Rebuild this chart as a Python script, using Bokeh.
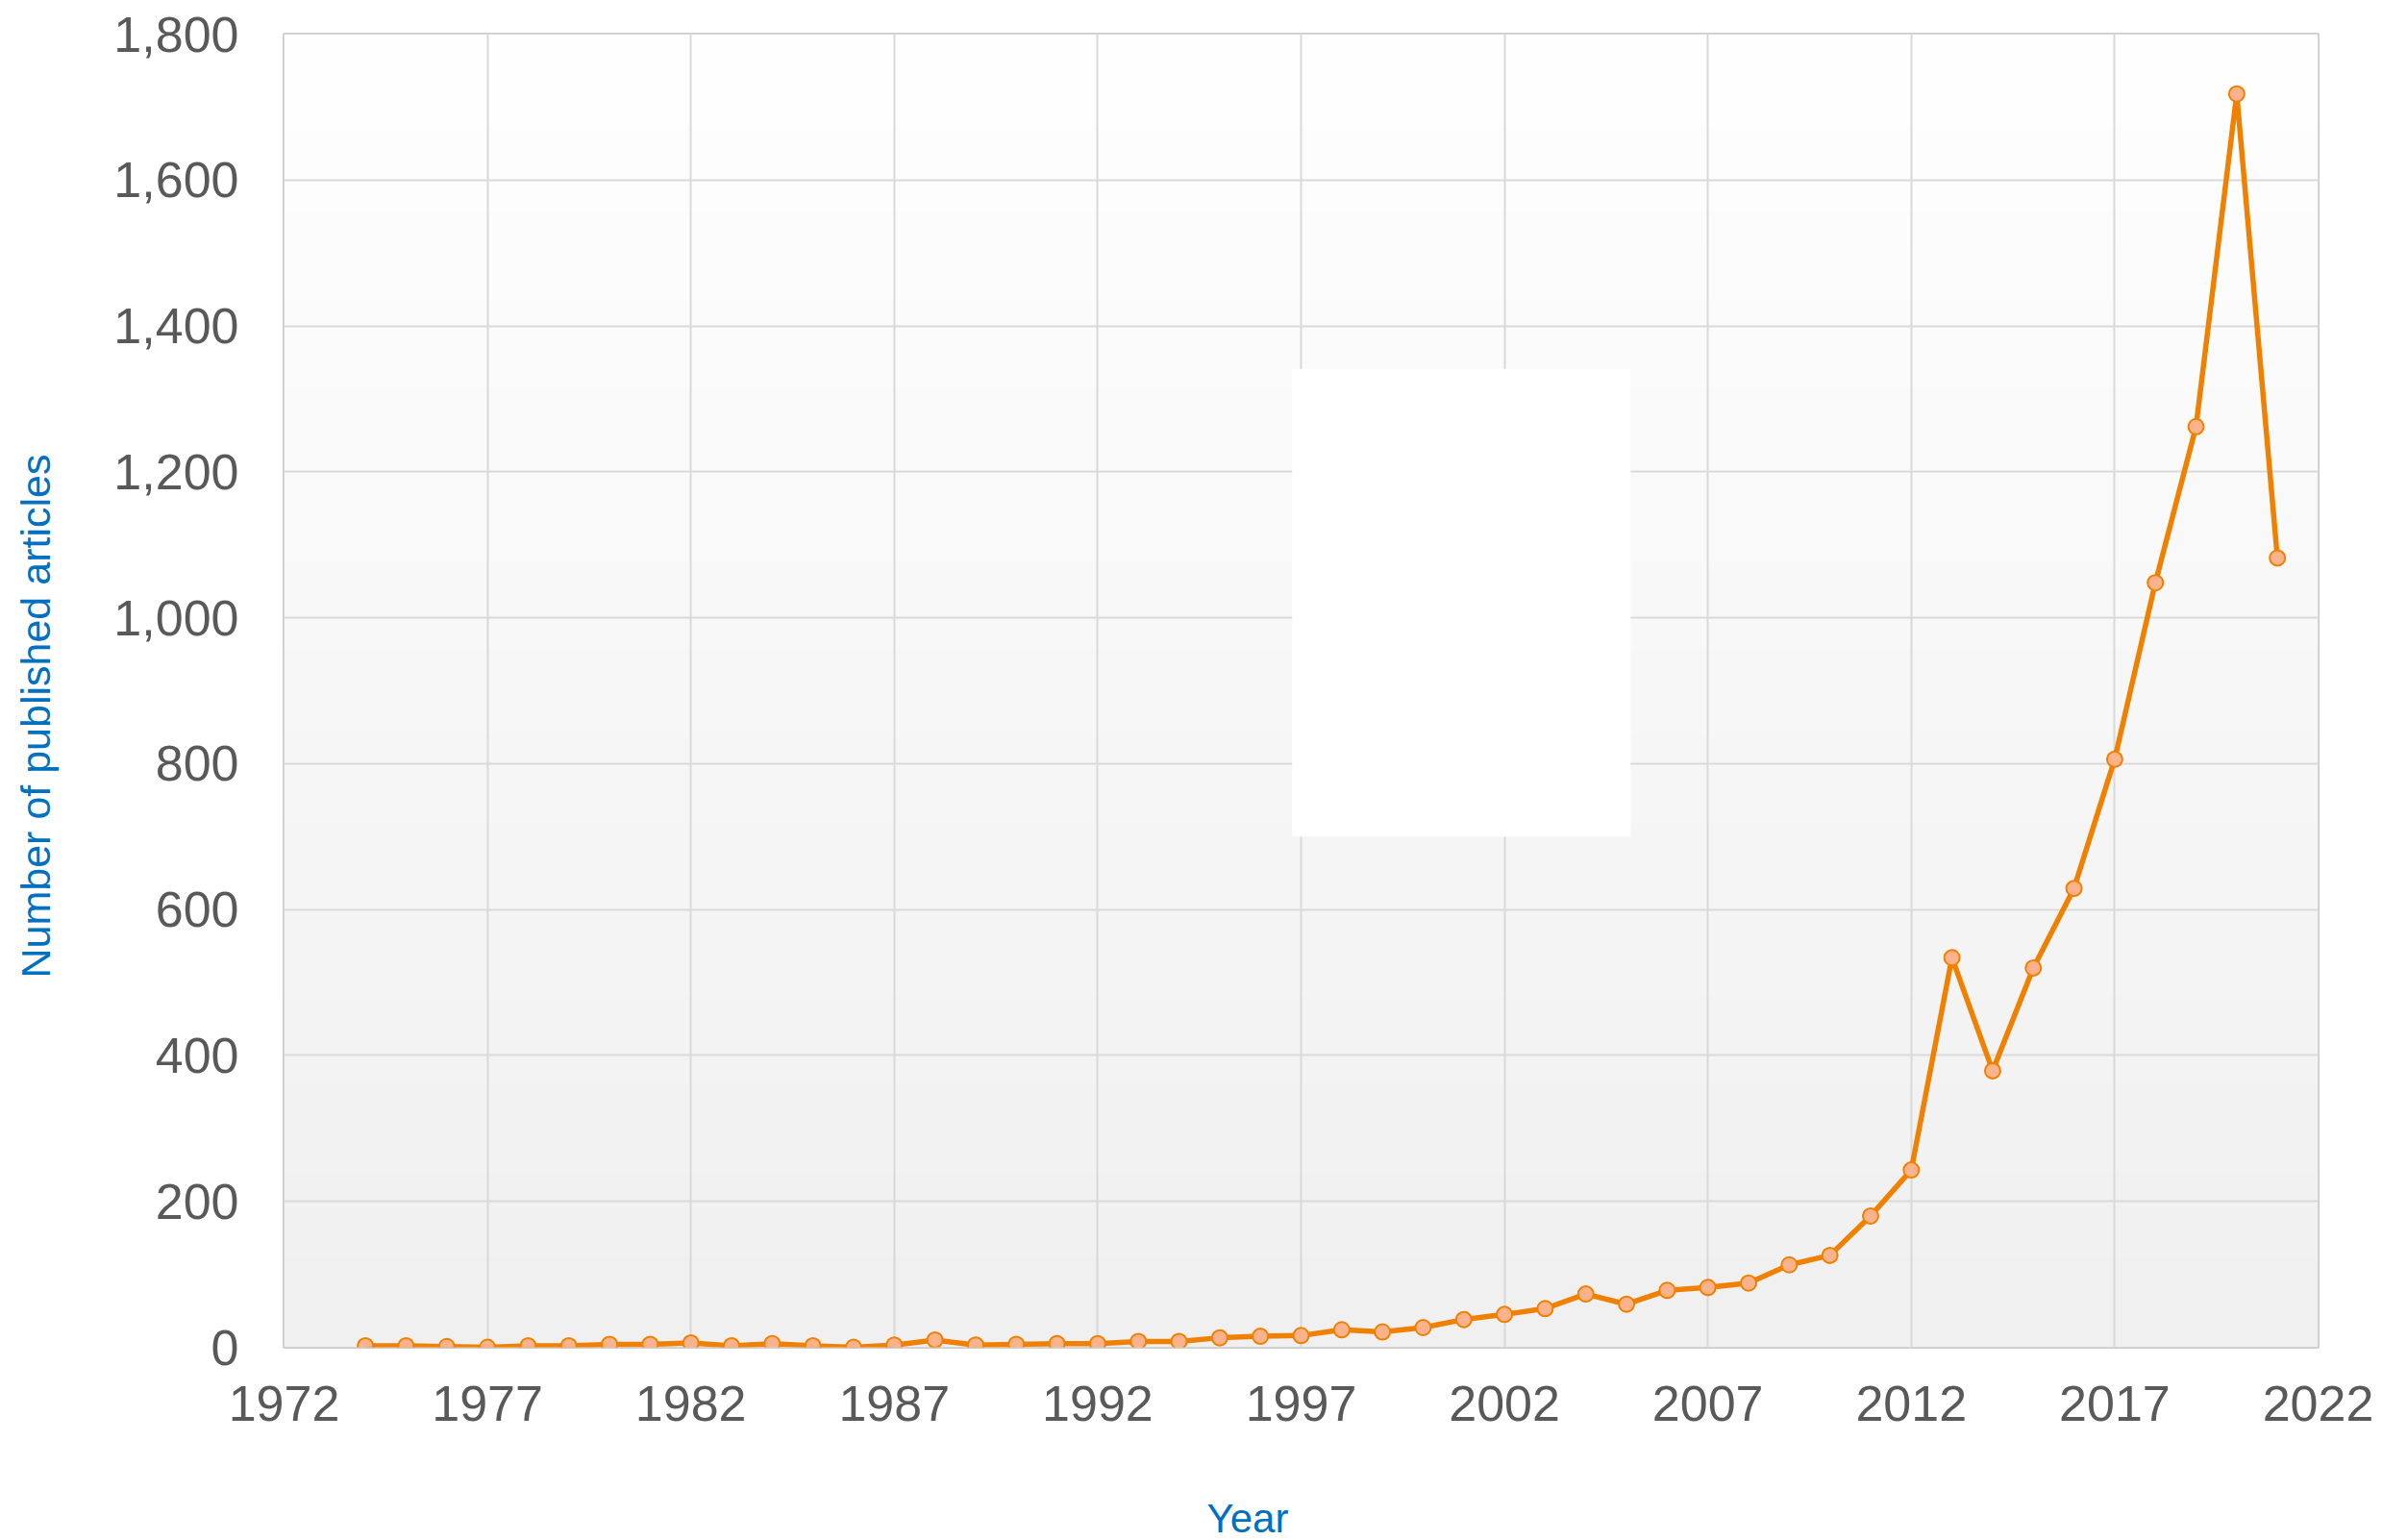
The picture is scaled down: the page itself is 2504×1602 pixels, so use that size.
import numpy as np
from bokeh.plotting import figure
from bokeh.models import FixedTicker, NumeralTickFormatter, BoxAnnotation, Range1d, Title
from bokeh.embed import file_html
from bokeh.resources import INLINE

# ---- data ----
years = list(range(1974, 2022))
articles = [2, 2, 1, 0, 2, 2, 4, 4, 6, 2,
            5, 2, 0, 3, 10, 3, 4, 5, 5, 8,
            8, 13, 15, 16, 24, 21, 27, 38, 45, 53,
            73, 59, 78, 82, 88, 113, 126, 180, 243, 534,
            379, 520, 629, 806, 1048, 1262, 1718, 1082]
x_ticks = [1972, 1977, 1982, 1987, 1992, 1997, 2002, 2007, 2012, 2017, 2022]
y_ticks = [0, 200, 400, 600, 800, 1000, 1200, 1400, 1600, 1800]
x_title = "Year"
y_title = "Number of published articles"

FONT = "Liberation Sans"

p = figure(width=2504, height=1602, output_backend="svg", toolbar_location=None,
           x_range=Range1d(1972, 2022), y_range=Range1d(0, 1800),
           min_border_left=295, min_border_right=93, min_border_top=35, min_border_bottom=199,
           background_fill_color="white", border_fill_color="white")

# gradient plot background
n = 256
g = np.linspace(240, 255, n).astype(np.uint8)
img = np.empty((n, 1), dtype=np.uint32)
view = img.view(dtype=np.uint8).reshape((n, 1, 4))
view[:, 0, 0] = g
view[:, 0, 1] = g
view[:, 0, 2] = g
view[:, 0, 3] = 255
p.image_rgba(image=[img], x=1972, y=0, dw=50, dh=1800, level="image")

# white blank box
p.add_layout(BoxAnnotation(left=1996.78, right=2005.1, bottom=700, top=1341,
                           fill_color="white", fill_alpha=1.0, line_alpha=0,
                           level="underlay"))

p.line(years, articles, line_color="#F08000", line_width=5.5)
p.scatter(years, articles, size=16, fill_color="#FCB38C", line_color="#F08000", line_width=2)

# axes
p.xaxis.ticker = FixedTicker(ticks=x_ticks)
p.yaxis.ticker = FixedTicker(ticks=y_ticks)
p.xgrid.ticker = FixedTicker(ticks=x_ticks)
p.ygrid.ticker = FixedTicker(ticks=y_ticks)
p.yaxis.formatter = NumeralTickFormatter(format="0,0")

for ax in (p.xaxis[0], p.yaxis[0]):
    ax.axis_line_color = None
    ax.major_tick_line_color = None
    ax.minor_tick_line_color = None
    ax.major_tick_out = 0
    ax.major_tick_in = 0
    ax.major_label_text_font = FONT
    ax.major_label_text_font_size = "52px"
    ax.major_label_text_color = "#595959"

p.xaxis.major_label_standoff = 40
p.yaxis.major_label_standoff = 47

# spacers between tick labels and axis titles
p.add_layout(Title(text=" ", standoff=24, text_font=FONT, text_font_size="42px"), "below")
p.add_layout(Title(text=" ", standoff=5, text_font=FONT, text_font_size="43px"), "left")

# axis titles (as side titles to match their off-centre positions)
p.add_layout(Title(text=x_title, align="left", offset=960, standoff=0,
                   text_font=FONT, text_font_size="42px", text_font_style="normal",
                   text_color="#0070C0"), "below")
p.add_layout(Title(text=y_title, align="left", offset=384, standoff=0,
                   text_font=FONT, text_font_size="43px", text_font_style="normal",
                   text_color="#0070C0"), "left")

for gr in (p.xgrid[0], p.ygrid[0]):
    gr.grid_line_color = "#d9d9d9"
    gr.grid_line_width = 2

p.outline_line_color = "#cccccc"
p.outline_line_width = 3

open("out.html", "w").write(file_html(p, INLINE))
